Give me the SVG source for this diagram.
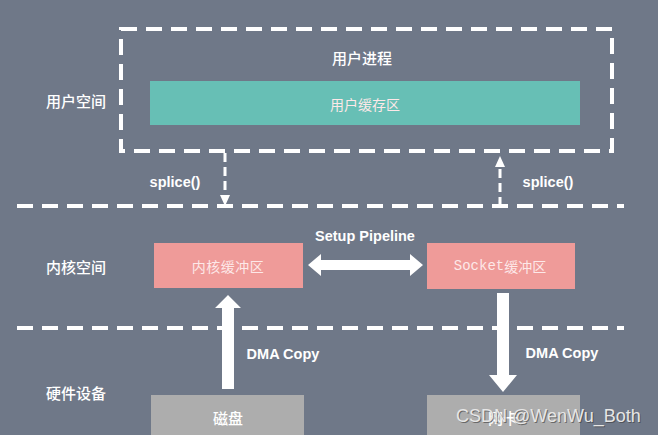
<svg xmlns="http://www.w3.org/2000/svg" width="658" height="435" viewBox="0 0 658 435">
<defs>
<style>
.bg{fill:#6f7888}
.dash{fill:none;stroke:#ffffff;stroke-width:4;stroke-dasharray:16 9}
.lbl{font-family:"Noto Sans CJK SC","Noto Sans",sans-serif;font-size:15px;font-weight:500;fill:#ffffff;text-anchor:middle;dominant-baseline:central}
.en{font-family:"Liberation Sans",Arial,sans-serif;font-size:14.5px;font-weight:bold;fill:#ffffff;text-anchor:middle;dominant-baseline:central}
.box-t{font-family:"Noto Sans CJK SC","Noto Sans",sans-serif;font-size:14px;fill:#fde8e8;text-anchor:middle;dominant-baseline:central}
.arrow{fill:#ffffff}
</style>
</defs>
<rect class="bg" x="0" y="0" width="658" height="435"/>

<g id="user-space">
<rect class="dash" x="121" y="29" width="491" height="122"/>
<text class="lbl" x="362" y="57">用户进程</text>
<text class="lbl" x="76" y="100">用户空间</text>
</g>
<g id="user-buffer">
<rect x="150" y="81" width="430" height="44" fill="#67bfb5"/>
<text class="box-t" x="365" y="104" fill="#f2fbfa" font-size="14.5">用户缓存区</text>
</g>

<g id="separators">
<line class="dash" x1="17" y1="206" x2="624" y2="206"/>
<line class="dash" x1="17" y1="328" x2="624" y2="328"/>
<text class="lbl" x="76" y="266">内核空间</text>
<text class="lbl" x="76" y="392">硬件设备</text>
</g>

<g id="kernel-buffer">
<rect x="154" y="243" width="149" height="45" fill="#ef9b99"/>
<text class="box-t" x="228" y="266" letter-spacing="0.5">内核缓冲区</text>
</g>
<g id="socket-buffer">
<rect x="427" y="243" width="148" height="46" fill="#ef9b99"/>
<text class="box-t" x="500" y="266"><tspan font-family="'Liberation Mono','DejaVu Sans Mono',monospace">Socket</tspan>缓冲区</text>
</g>
<g id="disk">
<rect x="151" y="395" width="153" height="45" fill="#adadad"/>
<text class="lbl" x="228" y="417" font-size="14">磁盘</text>
</g>
<g id="nic">
<rect x="427" y="395" width="153" height="45" fill="#adadad"/>
<text class="lbl" x="503" y="417" font-size="14">网卡</text>
</g>

<g id="connectors">
<line x1="225" y1="153" x2="225" y2="196" stroke="#ffffff" stroke-width="3" stroke-dasharray="9 5"/>
<path class="arrow" d="M220,195 L230,195 L225,206 z"/>
<line x1="500" y1="206" x2="500" y2="166" stroke="#ffffff" stroke-width="3" stroke-dasharray="9 5"/>
<path class="arrow" d="M495,167 L505,167 L500,156 z"/>
<text class="en" x="175" y="182">splice()</text>
<text class="en" x="548" y="182">splice()</text>

<path class="arrow" d="M308,265 L321,254 L321,260 L410,260 L410,254 L423,265 L410,276 L410,270 L321,270 L321,276 z"/>
<text class="en" x="365" y="236">Setup Pipeline</text>

<path class="arrow" d="M228,295 L241,308 L234,308 L234,389 L222,389 L222,308 L215,308 z"/>
<text class="en" x="283" y="354">DMA Copy</text>

<path class="arrow" d="M497,293 L509,293 L509,375 L517,375 L503,392 L489,375 L497,375 z"/>
<text class="en" x="562" y="353">DMA Copy</text>
</g>

<g id="watermark">
<text x="456" y="422" font-family="'Liberation Sans',Arial,sans-serif" font-size="18" fill="#3c3c3c" opacity="0.6" transform="translate(1,1)">CSDN @WenWu_Both</text>
<text x="456" y="422" font-family="'Liberation Sans',Arial,sans-serif" font-size="18" fill="#e6e6e6">CSDN @WenWu_Both</text>
</g>
</svg>
